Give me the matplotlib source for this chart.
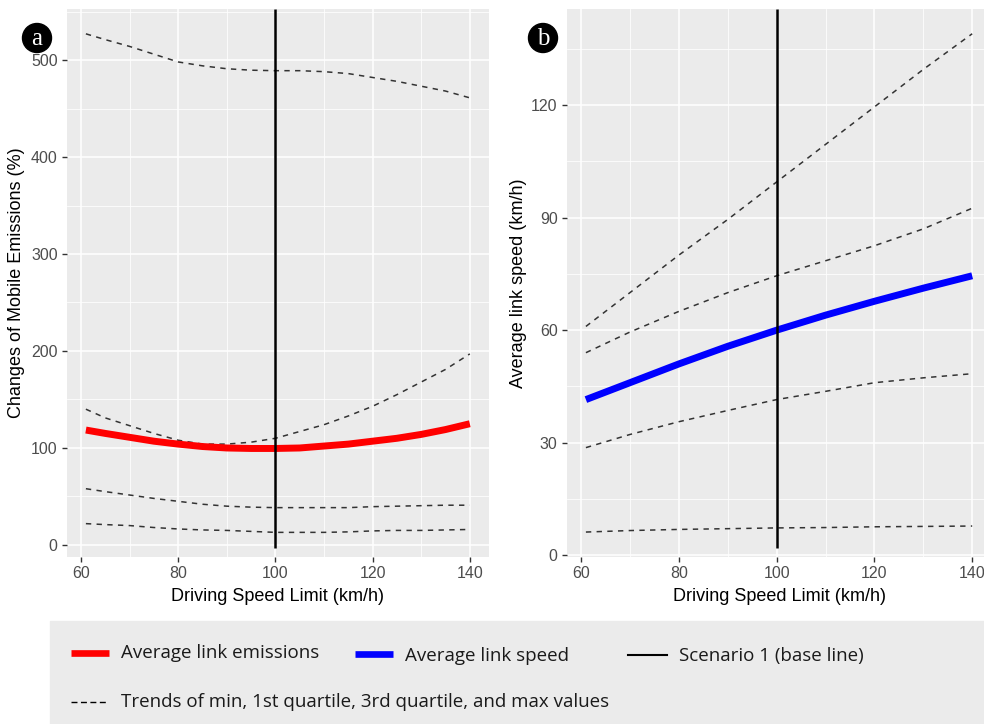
import numpy as np
import matplotlib.pyplot as plt
from matplotlib.lines import Line2D
from matplotlib.patches import Rectangle, Circle

# speed limits for panel a (km/h)
speed_a = [61, 65, 70, 75, 80, 85, 90, 95, 100, 105, 110, 115, 120, 125, 130, 135, 140]
# changes of mobile emissions (%)
emis_avg = [118.5, 115, 111, 107, 104, 101.5, 100, 99.5, 99.5, 100, 102, 104, 107, 110, 114, 119, 125]
emis_max = [527, 521, 514, 506, 498, 494, 491, 489.5, 489, 489, 488, 486, 482, 478, 473, 468, 461]
emis_q3 = [140, 131, 123, 115, 108, 104, 104, 106, 110, 117, 124, 133, 143, 155, 168, 181, 197]
emis_q1 = [58, 55, 51.5, 48, 45, 42, 40, 39, 38.5, 38.5, 38.5, 38.5, 39.5, 40, 40.5, 41, 41]
emis_min = [22, 21, 20, 18, 16.5, 15.5, 15, 14, 13, 13, 13, 13.5, 14.5, 15, 15, 15.5, 16]

# speed limits for panel b (km/h)
speed_b = [61, 70, 80, 90, 100, 110, 120, 130, 140]
# average link speed (km/h)
spd_avg = [41.5, 46, 51, 55.7, 60, 64, 67.7, 71.2, 74.5]
spd_max = [61, 70, 80, 89.5, 99.5, 109.5, 119.5, 129.5, 139]
spd_q3 = [54, 59.5, 65, 70, 74.5, 78.5, 82.5, 87, 92.5]
spd_q1 = [28.7, 32.2, 35.6, 38.6, 41.5, 43.7, 46, 47.3, 48.4]
spd_min = [6.2, 6.6, 6.9, 7.1, 7.3, 7.4, 7.6, 7.7, 7.8]

base_speed = 100  # scenario 1

W, H = 984, 724
fig = plt.figure(figsize=(W / 100, H / 100), dpi=100)
plt.rcParams['font.family'] = ['Liberation Sans', 'DejaVu Sans']


def px_axes(l, t, r, b):
    return fig.add_axes([l / W, 1 - b / H, (r - l) / W, (b - t) / H])


def style(ax, ylim, yticks, yminor):
    ax.set_facecolor('#EBEBEB')
    for s in ax.spines.values():
        s.set_visible(False)
    ax.set_xlim(57.05, 143.95)
    ax.set_ylim(*ylim)
    ax.set_xticks([60, 80, 100, 120, 140])
    ax.set_xticks([70, 90, 110, 130], minor=True)
    ax.set_yticks(yticks)
    ax.set_yticks(yminor, minor=True)
    ax.grid(which='major', color='white', lw=1.1)
    ax.grid(which='minor', color='white', lw=0.55)
    ax.set_axisbelow(True)
    ax.tick_params(which='major', length=3.5, width=1, color='#333333',
                   labelcolor='#4D4D4D', labelsize=11.5, pad=3)
    ax.tick_params(which='minor', length=0)


dash = dict(color='#333333', lw=1.1, dashes=(3.5, 3.5))

# panel a
ax1 = px_axes(66.7, 9, 489, 557)
style(ax1, (-12.4, 552.6), [0, 100, 200, 300, 400, 500], [50, 150, 250, 350, 450, 550])
for s in [emis_max, emis_q3, emis_q1, emis_min]:
    ax1.plot(speed_a, s, **dash)
ax1.plot(speed_a, emis_avg, color='#FF0000', lw=5, solid_capstyle='butt')
ax1.vlines(base_speed, -3, 552.6, color='black', lw=1.8)
ax1.set_xlabel('Driving Speed Limit (km/h)', fontsize=13)
ax1.set_ylabel('Changes of Mobile Emissions (%)', fontsize=13)
ax1.xaxis.set_label_coords(0.5, -0.057)
ax1.yaxis.set_label_coords(-0.098, 0.5)

# panel b
ax2 = px_axes(566.6, 9, 991.5, 557)
style(ax2, (-0.45, 145.6), [0, 30, 60, 90, 120], [15, 45, 75, 105, 135])
for s in [spd_max, spd_q3, spd_q1, spd_min]:
    ax2.plot(speed_b, s, **dash)
ax2.plot(speed_b, spd_avg, color='#0000FF', lw=5, solid_capstyle='butt')
ax2.vlines(base_speed, 2, 145.6, color='black', lw=1.8)
ax2.set_xlabel('Driving Speed Limit (km/h)', fontsize=13)
ax2.set_ylabel('Average link speed (km/h)', fontsize=13)
ax2.xaxis.set_label_coords(0.5, -0.057)
ax2.yaxis.set_label_coords(-0.093, 0.5)

# panel letters
for cx, cy, letter in [(37, 38, 'a'), (543, 38, 'b')]:
    fig.patches.append(Circle((cx / 100, (H - cy) / 100), 0.145, color='black',
                              transform=fig.dpi_scale_trans))
    fig.text(cx / W, 1 - (cy + 1) / H, letter, ha='center', va='center', color='white',
             fontsize=18, family='Liberation Serif')

# legend box
fig.patches.append(Rectangle((50 / W, 0), 1 - 50 / W, (H - 621) / H, color='#EBEBEB',
                             transform=fig.transFigure))


def leg_line(x0, x1, y, **kw):
    fig.lines.append(Line2D([x0 / W, x1 / W], [1 - y / H, 1 - y / H],
                            transform=fig.transFigure, **kw))


def leg_text(x, y, s):
    fig.text(x / W, 1 - y / H, s, va='baseline', ha='left', fontsize=13.5,
             family='Open Sans', color='#1A1A1A')


leg_line(70.7, 109, 652.7, color='#FF0000', lw=4.8, solid_capstyle='butt')
leg_text(120.7, 658, 'Average link emissions')
leg_line(355, 393, 654, color='#0000FF', lw=4.8, solid_capstyle='butt')
leg_text(405, 661, 'Average link speed')
leg_line(628, 667, 655, color='black', lw=1.5)
leg_text(679, 661, 'Scenario 1 (base line)')
leg_line(70.7, 108, 701.7, color='black', lw=1.0, dashes=(4.3, 2.5))
leg_text(120.7, 707, 'Trends of min, 1st quartile, 3rd quartile, and max values')

fig.savefig('out.png', dpi=100)
